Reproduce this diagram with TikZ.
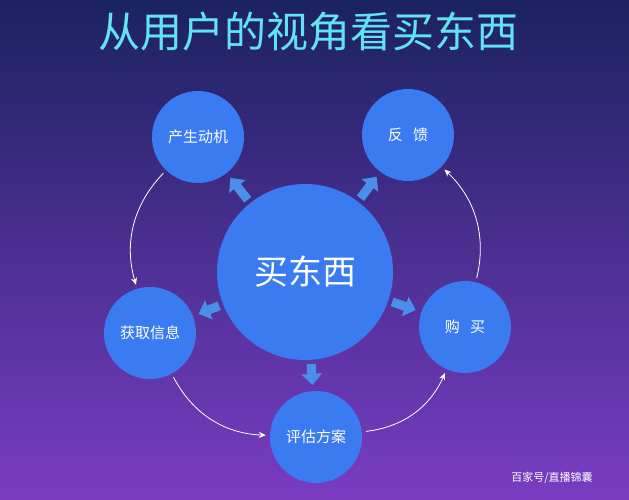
\documentclass[tikz,border=0pt]{standalone}
\usepackage{fontspec}
\newfontfamily\cjk{Noto Sans CJK SC}
\usetikzlibrary{arrows.meta}
\definecolor{bgtop}{HTML}{1B2260}
\definecolor{bgbot}{HTML}{7A3CC2}
\definecolor{ballblue}{HTML}{3B7BF2}
\definecolor{arrowblue}{HTML}{4A8FEA}
\definecolor{titlecyan}{HTML}{62E3F2}
\tikzset{
  % outer circles
  stage/.style={circle,fill=ballblue,minimum size=92pt,inner sep=0pt,
    text=white,font=\cjk\fontsize{15}{15}\selectfont},
  % central circle
  core/.style={circle,fill=ballblue,minimum size=176pt,inner sep=0pt,
    text=white,font=\cjk\fontsize{34}{34}\selectfont},
  % thick arrows from the core
  push/.style={arrowblue,line width=9pt,-{Triangle[length=11pt,width=20pt]},
    shorten <=4pt,shorten >=6pt},
  % thin white cycle arrows
  cycle/.style={white,line width=0.8pt,-{Stealth[length=7pt,width=6pt]},
    shorten <=4pt,shorten >=4pt}
}
\begin{document}
\begin{tikzpicture}[x=1pt,y=1pt]
  \shade[top color=bgtop,bottom color=bgbot] (0,0) rectangle (629,500);
  \useasboundingbox (0,0) rectangle (629,500);
  \node (title) at (308,468) [text=titlecyan,font=\cjk\fontsize{42}{42}\selectfont]
    {从用户的视角看买东西};
  \node (core) at (305,228) [core] {买东西};
  \node (motive) at (198,363) [stage] {产生动机};
  \node (feedback) at (408,365) [stage] {反\hspace{0.7em}馈};
  \node (info) at (150,167) [stage] {获取信息};
  \node (buy) at (465,173) [stage] {购\hspace{0.7em}买};
  \node (eval) at (316,63) [stage] {评估方案};
  \foreach \t in {motive,feedback,info,buy,eval}
    \draw[push] (core) -- (\t);
  \draw[cycle] (motive) to[bend right=30] (info);
  \draw[cycle] (info) to[bend right=30] (eval);
  \draw[cycle] (eval) to[bend right=30] (buy);
  \draw[cycle] (buy) to[bend right=30] (feedback);
  \node (mark) at (552,22) [text=white,font=\cjk\fontsize{11}{11}\selectfont]
    {百家号/直播锦囊};
\end{tikzpicture}
\end{document}
